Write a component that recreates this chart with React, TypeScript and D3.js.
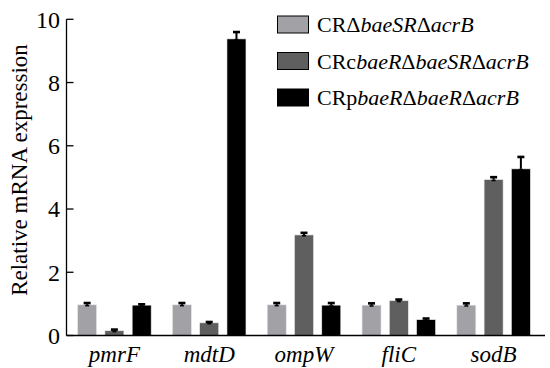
import React from "react";
import * as d3 from "d3";

const categories = ["pmrF", "mdtD", "ompW", "fliC", "sodB"];
const seriesNames = ["s1", "s2", "s3"];
const s1Values = [0.97, 0.97, 0.97, 0.96, 0.96];
const s1Errors = [0.06, 0.06, 0.06, 0.06, 0.06];
const s2Values = [0.15, 0.4, 3.18, 1.1, 4.93];
const s2Errors = [0.04, 0.03, 0.07, 0.04, 0.08];
const s3Values = [0.96, 9.38, 0.96, 0.5, 5.27];
const s3Errors = [0.03, 0.22, 0.07, 0.04, 0.38];
const yTicks = [0, 2, 4, 6, 8, 10];
const colors = ["#a2a1a6", "#5f5f5f", "#000000"];

const W = 550, H = 368;
const FONT = '"Liberation Serif", "DejaVu Serif", "Times New Roman", Times, serif';

export default function App() {
  const y = d3.scaleLinear().domain([0, 10]).range([335.5, 19.3]);
  const x = d3.scaleBand().domain(categories).range([67, 541]).paddingInner(0).paddingOuter(0);
  const inner = d3.scaleBand().domain(seriesNames).range([-37.5, 37.5]).paddingInner(0.25).paddingOuter(0);
  const bw = 19;
  const vals = [s1Values, s2Values, s3Values];
  const errs = [s1Errors, s2Errors, s3Errors];
  const axisX = 66.5;

  return (
    <svg width={W} height={H} style={{ position: "absolute", left: 0, top: 0, background: "#fff", fontFamily: FONT }}>
      {categories.map((c, ci) => {
        const cx = (x(c) as number) + x.bandwidth() / 2;
        return seriesNames.map((s, si) => {
          const bx = cx + (inner(s) as number) + inner.bandwidth() / 2 - bw / 2;
          const v = vals[si][ci];
          const e = errs[si][ci];
          const top = y(v);
          const etop = y(v + e);
          const mid = bx + bw / 2;
          return (
            <g key={c + s}>
              <rect x={bx} y={top} width={bw} height={y(0) - top} fill={colors[si]} stroke="#e8e8e8" strokeWidth={0.6} />
              <line x1={mid} x2={mid} y1={top} y2={etop} stroke="#000" strokeWidth={2} />
              <rect x={mid - 3.5} y={etop - 1.2} width={7} height={2.6} fill="#000" />
              <rect x={mid - 2} y={top} width={4} height={1.6} fill="#000" />
            </g>
          );
        });
      })}
      <line x1={axisX} x2={axisX} y1={y(10)} y2={y(0)} stroke="#000" strokeWidth={1.3} />
      <line x1={axisX} x2={545} y1={y(0)} y2={y(0)} stroke="#000" strokeWidth={1.3} />
      {yTicks.map((t) => (
        <g key={t}>
          <line x1={axisX} x2={axisX + 7} y1={y(t)} y2={y(t)} stroke="#000" strokeWidth={1.3} />
          <text x={60} y={y(t)} dy="0.35em" textAnchor="end" fontSize={24} style={{ fontFamily: FONT }}>{t}</text>
        </g>
      ))}
      {categories.map((c) => (
        <text key={c} x={(x(c) as number) + x.bandwidth() / 2} y={362} textAnchor="middle" fontSize={23} fontStyle="italic" style={{ fontFamily: FONT }}>{c}</text>
      ))}
      <text transform={`translate(27,170) rotate(-90)`} textAnchor="middle" fontSize={23} style={{ fontFamily: FONT }}>Relative mRNA expression</text>
      {[0, 1, 2].map((i) => {
        const ty = 16 + i * 36.5;
        return (
          <g key={i}>
            <rect x={277.5} y={ty} width={31} height={17} fill={colors[i]} stroke="#000" strokeWidth={1} />
            <text x={317} y={ty + 16} fontSize={22} style={{ fontFamily: FONT }}>
              {i === 0 && (<><tspan>CRΔ</tspan><tspan fontStyle="italic">baeSR</tspan><tspan>Δ</tspan><tspan fontStyle="italic">acrB</tspan></>)}
              {i === 1 && (<><tspan>CRc</tspan><tspan fontStyle="italic">baeR</tspan><tspan>Δ</tspan><tspan fontStyle="italic">baeSR</tspan><tspan>Δ</tspan><tspan fontStyle="italic">acrB</tspan></>)}
              {i === 2 && (<><tspan>CRp</tspan><tspan fontStyle="italic">baeR</tspan><tspan>Δ</tspan><tspan fontStyle="italic">baeR</tspan><tspan>Δ</tspan><tspan fontStyle="italic">acrB</tspan></>)}
            </text>
          </g>
        );
      })}
    </svg>
  );
}
